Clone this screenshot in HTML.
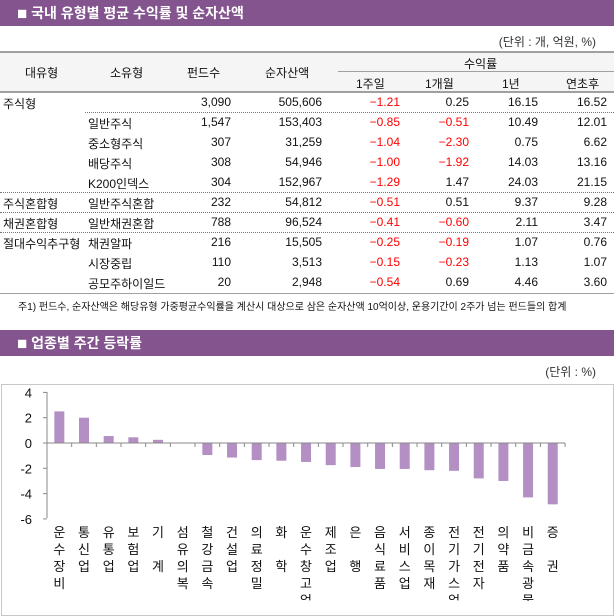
<!DOCTYPE html>
<html><head><meta charset="utf-8"><style>
body{margin:0;width:614px;height:601px;overflow:hidden;background:#fff;font-family:"Liberation Sans","Noto Sans CJK KR",sans-serif;font-size:12px;color:#111;position:relative}
.a{position:absolute;white-space:nowrap}
.bar{position:absolute;left:0;width:614px;height:26px;background:#84548f;color:#fff;font-weight:bold;font-size:14px;line-height:26px}
.bar b{font-size:17px;vertical-align:-1px}
.r{text-align:right}
.red{color:#f00}
.hl{position:absolute;height:0;border-top:2px solid #a0a0a0}
.dl{position:absolute;height:0;border-top:1px dotted #777}
</style></head><body>
<div class="bar" style="top:0"><span style="margin-left:17px"><b>■</b> 국내 유형별 평균 수익률 및 순자산액</span></div>
<div class="a" style="right:18px;top:33px;color:#333">(단위 : 개, 억원, %)</div>
<div style="position:absolute;left:0;top:52px;width:614px;height:40px;background:#f5f5f5"></div>
<div class="hl" style="left:0;top:51px;width:614px"></div>
<div class="hl" style="left:338px;top:71px;width:276px;border-top-width:1px"></div>
<div class="hl" style="left:0;top:91px;width:614px"></div>
<div class="a" style="left:25px;top:64px">대유형</div>
<div class="a" style="left:110px;top:64px">소유형</div>
<div class="a" style="left:187px;top:64px">펀드수</div>
<div class="a" style="left:265px;top:64px">순자산액</div>
<div class="a" style="left:464px;top:55px">수익률</div>
<div class="a" style="left:356px;top:75px">1주일</div>
<div class="a" style="left:425px;top:75px">1개월</div>
<div class="a" style="left:502px;top:75px">1년</div>
<div class="a" style="left:566px;top:75px">연초후</div>
<div id="rows"></div>
<div class="dl" style="left:85px;top:112px;width:529px"></div>
<div class="dl" style="left:0;top:192px;width:614px"></div>
<div class="dl" style="left:0;top:212px;width:614px"></div>
<div class="dl" style="left:0;top:232px;width:614px"></div>
<div class="hl" style="left:0;top:293px;width:614px;border-top-width:1px"></div>
<div class="a" style="left:18px;top:298px;font-size:10px">주1) 펀드수, 순자산액은 해당유형 가중평균수익률을 계산시 대상으로 삼은 순자산액 10억이상, 운용기간이 2주가 넘는 펀드들의 합계</div>
<div class="bar" style="top:330px"><span style="margin-left:17px"><b>■</b> 업종별 주간 등락률</span></div>
<div class="a" style="right:18px;top:363px;color:#333">(단위 : %)</div>
<div style="position:absolute;left:1px;top:384px;width:611px;height:230px;border:1px solid #c8c8c8"></div>
<svg id="ch" class="a" style="left:0;top:0" width="614" height="601"></svg>
<script>
var rows=[
["주식형","","3,090","505,606","-1.21","0.25","16.15","16.52"],
["","일반주식","1,547","153,403","-0.85","-0.51","10.49","12.01"],
["","중소형주식","307","31,259","-1.04","-2.30","0.75","6.62"],
["","배당주식","308","54,946","-1.00","-1.92","14.03","13.16"],
["","K200인덱스","304","152,967","-1.29","1.47","24.03","21.15"],
["주식혼합형","일반주식혼합","232","54,812","-0.51","0.51","9.37","9.28"],
["채권혼합형","일반채권혼합","788","96,524","-0.41","-0.60","2.11","3.47"],
["절대수익추구형","채권알파","216","15,505","-0.25","-0.19","1.07","0.76"],
["","시장중립","110","3,513","-0.15","-0.23","1.13","1.07"],
["","공모주하이일드","20","2,948","-0.54","0.69","4.46","3.60"]];
var rt=[231,322,400,469,538,607],h="";
rows.forEach(function(r,i){var y=95+i*20;
h+='<div class="a" style="left:3px;top:'+y+'px">'+r[0]+'</div><div class="a" style="left:88px;top:'+y+'px">'+r[1]+'</div>';
for(var j=2;j<8;j++){var v=r[j],red=j>=4&&j<=5&&v[0]=="-";h+='<div class="a r'+(red?' red':'')+'" style="right:'+(614-rt[j-2])+'px;top:'+y+'px">'+(v[0]=="-"?"−"+v.slice(1):v)+'</div>';}
});
document.getElementById("rows").innerHTML=h;
var vals=[2.5,2.0,0.55,0.45,0.25,0,-0.95,-1.15,-1.35,-1.4,-1.5,-1.75,-1.9,-2.05,-2.05,-2.15,-2.2,-2.8,-3.0,-4.3,-4.85];
var labs=["운수장비","통신업","유통업","보험업","기 계","섬유의복","철강금속","건설업","의료정밀","화 학","운수창고업","제조업","은 행","음식료품","서비스업","종이목재","전기가스업","전기전자","의약품","비금속광물제품","증 권"];
var s="",x0=47,cw=24.67,y0=443,u=12.65;
for(var i=0;i<21;i++){var v=vals[i],cx=x0+cw*(i+0.5),y=v>0?y0-v*u:y0,hh=Math.abs(v)*u;
s+='<rect x="'+(cx-5)+'" y="'+y+'" width="10" height="'+hh+'" fill="#b48fc4"/>';
var L=labs[i].replace(" ","");var sp=labs[i].indexOf(" ")>=0;
for(var k=0;k<L.length;k++){var ty=537+k*17+(sp&&k==1?17:0);s+='<text x="'+cx+'" y="'+ty+'" text-anchor="middle" font-size="13" fill="#111">'+L[k]+'</text>';}
}
s+='<line x1="'+x0+'" y1="392" x2="'+x0+'" y2="518" stroke="#888"/>';
s+='<line x1="'+x0+'" y1="443" x2="565" y2="443" stroke="#888"/>';
for(var i=0;i<=21;i++){var x=x0+cw*i;s+='<line x1="'+x+'" y1="443" x2="'+x+'" y2="447" stroke="#888"/>';}
[4,2,0,-2,-4,-6].forEach(function(v){var y=y0-v*u;s+='<line x1="43" y1="'+y+'" x2="'+x0+'" y2="'+y+'" stroke="#888"/><text x="32" y="'+(y+5)+'" text-anchor="end" font-size="13" fill="#111">'+v+'</text>';});
document.getElementById("ch").innerHTML=s;
</script>
</body></html>
